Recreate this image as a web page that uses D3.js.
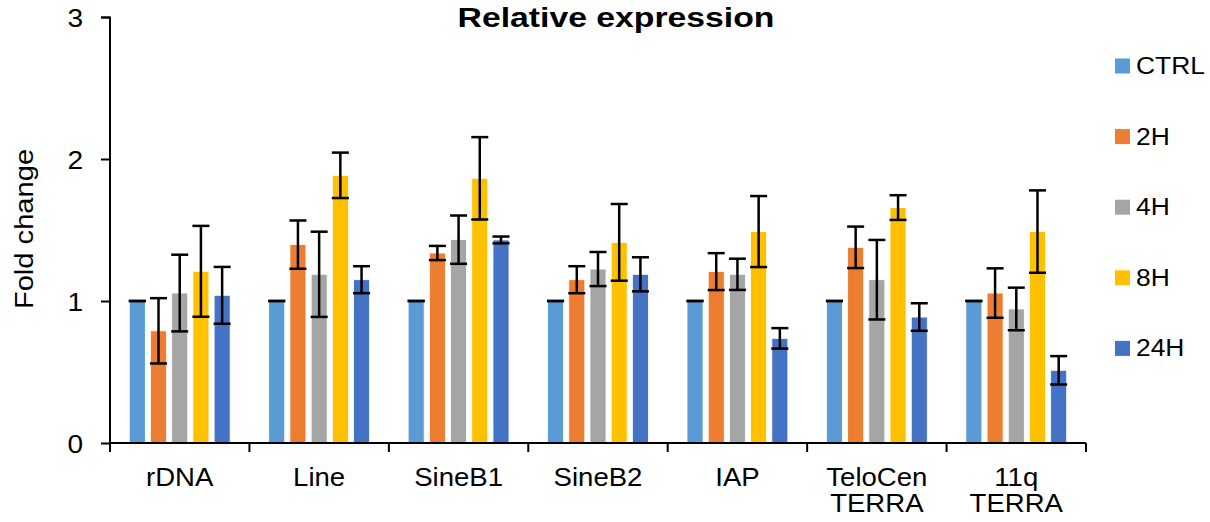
<!DOCTYPE html>
<html>
<head>
<meta charset="utf-8">
<script src="https://cdn.jsdelivr.net/npm/d3@7"></script>
<style>
  html, body { margin: 0; padding: 0; background: #fff; }
  svg { display: block; }
</style>
</head>
<body>
<svg id="chart"></svg>
<script>
const categories = [["rDNA"], ["Line"], ["SineB1"], ["SineB2"], ["IAP"], ["TeloCen", "TERRA"], ["11q", "TERRA"]];
const seriesNames = ["CTRL", "2H", "4H", "8H", "24H"];
const seriesColors = ["#5B9BD5", "#ED7D31", "#A5A5A5", "#FFC000", "#4472C4"];

// mean values per category, in series order
const means = [
  [1, 0.79, 1.056, 1.209, 1.04],
  [1, 1.397, 1.188, 1.885, 1.15],
  [1, 1.338, 1.432, 1.864, 1.43],
  [1, 1.15, 1.225, 1.413, 1.188],
  [1, 1.207, 1.188, 1.489, 0.737],
  [1, 1.378, 1.15, 1.658, 0.887],
  [1, 1.056, 0.944, 1.489, 0.512]
];
// symmetric error (±)
const errors = [
  [0, 0.23, 0.27, 0.32, 0.2],
  [0, 0.17, 0.30, 0.16, 0.095],
  [0, 0.05, 0.17, 0.29, 0.024],
  [0, 0.095, 0.12, 0.27, 0.12],
  [0, 0.13, 0.11, 0.25, 0.072],
  [0, 0.146, 0.28, 0.087, 0.097],
  [0, 0.174, 0.15, 0.29, 0.1]
];
const yTicks = [0, 1, 2, 3];

const W = 1210, H = 522;
const m = { top: 17, right: 124, bottom: 79, left: 110 };
const iW = W - m.left - m.right;
const iH = H - m.top - m.bottom;
const font = "'Liberation Sans', Arial, sans-serif";

const svg = d3.select("#chart").attr("width", W).attr("height", H);

// title (the source font runs wider than Arial, hence the x-stretch)
svg.append("g").attr("transform", "translate(616,27) scale(1.25,1)")
  .append("text")
  .attr("text-anchor", "middle")
  .style("font-family", font).style("font-size", "27px").style("font-weight", "bold")
  .text("Relative expression");

const g = svg.append("g").attr("transform", `translate(${m.left},${m.top})`);

const x = d3.scaleBand().domain(d3.range(categories.length)).range([0, iW]).padding(0);
const xs = d3.scaleBand().domain(seriesNames).range([0, x.bandwidth()])
  .paddingInner(0.245).paddingOuter(0.91);
const y = d3.scaleLinear().domain([0, 3]).range([iH, 0]);

// bars
categories.forEach((c, ci) => {
  const grp = g.append("g").attr("transform", `translate(${x(ci)},0)`);
  seriesNames.forEach((s, si) => {
    const v = means[ci][si];
    grp.append("rect")
      .attr("x", xs(s)).attr("y", y(v))
      .attr("width", xs.bandwidth()).attr("height", iH - y(v))
      .attr("fill", seriesColors[si])
      .attr("stroke", "#fff").attr("stroke-width", 0.8);
  });
});

// error bars
categories.forEach((c, ci) => {
  const grp = g.append("g").attr("transform", `translate(${x(ci)},0)`);
  seriesNames.forEach((s, si) => {
    const v = means[ci][si], e = errors[ci][si];
    const cx = xs(s) + xs.bandwidth() / 2;
    const hw = xs.bandwidth() / 2 + 0.5;
    grp.append("line")
      .attr("x1", cx).attr("x2", cx).attr("y1", y(v + e)).attr("y2", y(v - e))
      .attr("stroke", "#000").attr("stroke-width", 2.5);
    [v + e, v - e].forEach(t => {
      grp.append("line")
        .attr("x1", cx - hw).attr("x2", cx + hw).attr("y1", y(t)).attr("y2", y(t))
        .attr("stroke", "#000").attr("stroke-width", 2.5);
    });
  });
});

// y axis
g.append("g")
  .call(d3.axisLeft(y).tickValues(yTicks).tickSize(9).tickFormat(d3.format("d")))
  .call(ax => {
    ax.select(".domain").attr("stroke", "#000").attr("stroke-width", 2).attr("d", `M-9,0.5H0V${iH}`);
    ax.selectAll(".tick line").attr("stroke", "#000").attr("stroke-width", 2);
    ax.selectAll(".tick text")
      .attr("x", -25).attr("dy", "0.36em")
      .attr("transform", "scale(1.08,1)")
      .style("font-family", font).style("font-size", "26px").attr("fill", "#000");
  });

svg.append("text")
  .attr("transform", `translate(33,229) rotate(-90) scale(1.12,1)`)
  .attr("text-anchor", "middle")
  .style("font-family", font).style("font-size", "26px")
  .text("Fold change");

// x axis
const xAxis = g.append("g").attr("transform", `translate(0,${iH})`);
xAxis.append("line")
  .attr("x1", 0).attr("x2", iW).attr("y1", 0).attr("y2", 0)
  .attr("stroke", "#000").attr("stroke-width", 2);
d3.range(categories.length + 1).forEach(i => {
  const tx = i < categories.length ? x(i) : iW;
  xAxis.append("line")
    .attr("x1", tx).attr("x2", tx).attr("y1", 0).attr("y2", 9)
    .attr("stroke", "#000").attr("stroke-width", 2);
});
categories.forEach((lines, ci) => {
  const t = xAxis.append("g")
    .attr("transform", `translate(${x(ci) + x.bandwidth() / 2},0) scale(1.06,1)`)
    .append("text")
    .attr("text-anchor", "middle")
    .style("font-family", font).style("font-size", "26px");
  lines.forEach((ln, li) => {
    t.append("tspan").attr("x", 0).attr("y", 43 + li * 26.5).text(ln);
  });
});

// legend
const leg = svg.append("g").attr("transform", "translate(1115,0)");
seriesNames.forEach((s, i) => {
  const base = 74 + i * 70.6;
  leg.append("rect")
    .attr("x", 0).attr("y", base - 15.5).attr("width", 15).attr("height", 15)
    .attr("fill", seriesColors[i]);
  leg.append("g").attr("transform", `translate(21,${base}) scale(1.1,1)`)
    .append("text")
    .style("font-family", font).style("font-size", "24px")
    .text(s);
});
</script>
</body>
</html>
